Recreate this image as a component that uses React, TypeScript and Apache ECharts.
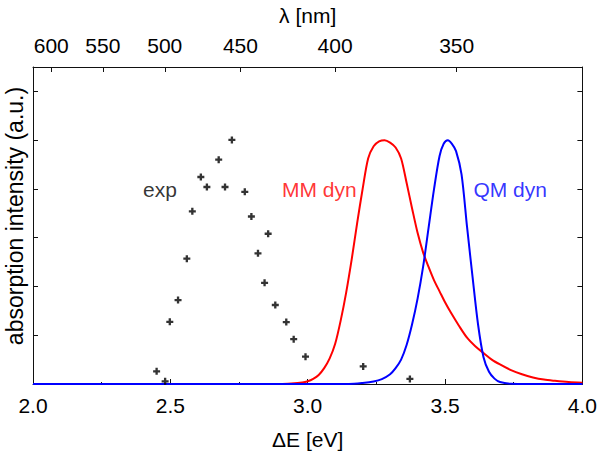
import React, { useEffect, useRef } from "react";
import * as echarts from "echarts";

// experimental points (ΔE [eV], intensity)
const expE = [2.450, 2.481, 2.498, 2.528, 2.560, 2.580, 2.611, 2.633, 2.676, 2.699, 2.724, 2.771, 2.795, 2.819, 2.843, 2.856, 2.882, 2.922, 2.949, 2.992, 3.202, 3.372];
const expV = [0.052, 0.011, 0.255, 0.344, 0.514, 0.708, 0.849, 0.808, 0.920, 0.808, 1.001, 0.788, 0.687, 0.536, 0.415, 0.616, 0.324, 0.254, 0.184, 0.112, 0.072, 0.021];

// MM dyn spectrum
const mmE = [2.0, 2.9, 2.94, 2.98, 3.0, 3.02, 3.04, 3.06, 3.08, 3.1, 3.12, 3.14, 3.16, 3.18, 3.2, 3.22, 3.24, 3.26, 3.28, 3.3, 3.32, 3.34, 3.36, 3.38, 3.4, 3.42, 3.44, 3.46, 3.48, 3.5, 3.52, 3.55, 3.58, 3.61, 3.64, 3.67, 3.7, 3.74, 3.78, 3.82, 3.86, 3.9, 3.95, 4.0];
const mmV = [0, 0, 0.002, 0.006, 0.011, 0.021, 0.037, 0.065, 0.105, 0.165, 0.26, 0.375, 0.51, 0.66, 0.8, 0.925, 0.975, 0.995, 1.0, 0.99, 0.97, 0.925, 0.825, 0.72, 0.62, 0.54, 0.48, 0.425, 0.38, 0.335, 0.295, 0.24, 0.19, 0.155, 0.127, 0.1, 0.08, 0.057, 0.04, 0.027, 0.018, 0.013, 0.008, 0.005];

// QM dyn spectrum
const qmE = [2.0, 3.15, 3.2, 3.24, 3.27, 3.3, 3.32, 3.34, 3.36, 3.38, 3.4, 3.42, 3.44, 3.46, 3.48, 3.495, 3.51, 3.525, 3.54, 3.56, 3.58, 3.6, 3.62, 3.64, 3.66, 3.68, 3.7, 3.74, 3.8, 4.0];
const qmV = [0, 0, 0.004, 0.01, 0.02, 0.04, 0.065, 0.1, 0.16, 0.245, 0.35, 0.48, 0.64, 0.8, 0.935, 0.985, 1.0, 0.985, 0.955, 0.86, 0.645, 0.44, 0.245, 0.11, 0.05, 0.022, 0.008, 0.001, 0, 0];

// top axis wavelengths [nm]
const lambdaTicks = [600, 550, 500, 450, 400, 350];
const HC = 1239.84;

// annotation labels
const noteText = ["exp", "MM dyn", "QM dyn"];
const noteE = [2.462, 3.042, 3.737];
const noteV = [0.796, 0.796, 0.796];
const noteColor = ["#000000", "#ff0000", "#0000ff"];

const FONT = "'Liberation Sans', Arial, Helvetica, sans-serif";
const AX = "#111111";

export default function App() {
  const ref = useRef<HTMLDivElement>(null);
  useEffect(() => {
    if (!ref.current) return;
    const chart = echarts.init(ref.current, undefined, { renderer: "svg" });
    const zip = (a: number[], b: number[]) => a.map((x, i) => [x, b[i]]);
    const lambdaE = lambdaTicks.map((l) => HC / l);
    const yCommon = {
      type: "value",
      min: 0,
      max: 1.3,
      interval: 0.2,
      axisLine: { show: true, lineStyle: { color: AX, width: 1 } },
      axisTick: { show: true, inside: true, length: 5, lineStyle: { color: AX } },
      axisLabel: { show: false },
      splitLine: { show: false },
    };
    chart.setOption({
      animation: false,
      backgroundColor: "#ffffff",
      textStyle: { fontFamily: FONT },
      grid: { left: 33, width: 552, top: 63, height: 325, containLabel: false },
      xAxis: [
        {
          type: "value",
          position: "bottom",
          min: 2,
          max: 4,
          interval: 0.5,
          name: "ΔE [eV]",
          nameLocation: "middle",
          nameGap: 45,
          nameTextStyle: { fontSize: 21, color: "#000", fontFamily: FONT },
          axisLine: { show: true, onZero: false, lineStyle: { color: AX, width: 1 } },
          axisTick: { show: true, inside: true, length: 5, lineStyle: { color: AX } },
          minorTick: { show: true, splitNumber: 2, length: 2, lineStyle: { color: AX } },
          axisLabel: {
            fontSize: 21,
            color: "#000",
            margin: 11,
            fontFamily: FONT,
            formatter: (v: number) => v.toFixed(1),
          },
          splitLine: { show: false },
        },
        {
          type: "value",
          position: "top",
          min: 2,
          max: 4,
          name: "λ [nm]",
          nameLocation: "middle",
          nameGap: 41,
          nameTextStyle: { fontSize: 21, color: "#000", fontFamily: FONT },
          axisLine: { show: true, onZero: false, lineStyle: { color: AX, width: 1 } },
          axisTick: { show: true, inside: true, length: 5, customValues: lambdaE, lineStyle: { color: AX } },
          axisLabel: {
            fontSize: 21,
            color: "#000",
            margin: 11,
            fontFamily: FONT,
            customValues: lambdaE,
            formatter: (v: number) => String(Math.round(HC / v)),
          },
          splitLine: { show: false },
        },
      ],
      yAxis: [
        { ...yCommon, position: "left" },
        { ...yCommon, position: "right" },
      ],
      graphic: [
        {
          type: "text",
          x: 15,
          y: 216,
          rotation: Math.PI / 2,
          style: {
            text: "absorption intensity (a.u.)",
            fontSize: 23,
            fontFamily: FONT,
            fill: "#000",
            align: "center",
            verticalAlign: "middle",
          },
        },
      ],
      series: [
        {
          type: "line",
          name: "MM dyn",
          data: zip(mmE, mmV),
          showSymbol: false,
          smooth: 0.3,
          lineStyle: { color: "#ff0000", width: 2 },
          z: 2,
        },
        {
          type: "line",
          name: "QM dyn",
          data: zip(qmE, qmV),
          showSymbol: false,
          smooth: 0.3,
          lineStyle: { color: "#0000ff", width: 2 },
          z: 3,
        },
        {
          type: "scatter",
          name: "exp",
          data: zip(expE, expV),
          symbol: "path://M-1,-3H1V-1H3V1H1V3H-1V1H-3V-1H-1Z",
          symbolSize: 7,
          itemStyle: { color: "#000000" },
          z: 4,
        },
        {
          type: "scatter",
          name: "notes",
          data: noteText.map((t, i) => ({
            value: [noteE[i], noteV[i]],
            label: {
              show: true,
              position: "inside",
              formatter: t,
              color: noteColor[i],
              fontSize: 21,
              fontFamily: FONT,
            },
          })),
          symbolSize: 0,
          silent: true,
          z: 5,
        },
      ],
    });
    return () => chart.dispose();
  }, []);
  return (
    <div
      ref={ref}
      style={{ position: "fixed", left: 0, top: 0, width: 600, height: 455, background: "#fff" }}
    />
  );
}
